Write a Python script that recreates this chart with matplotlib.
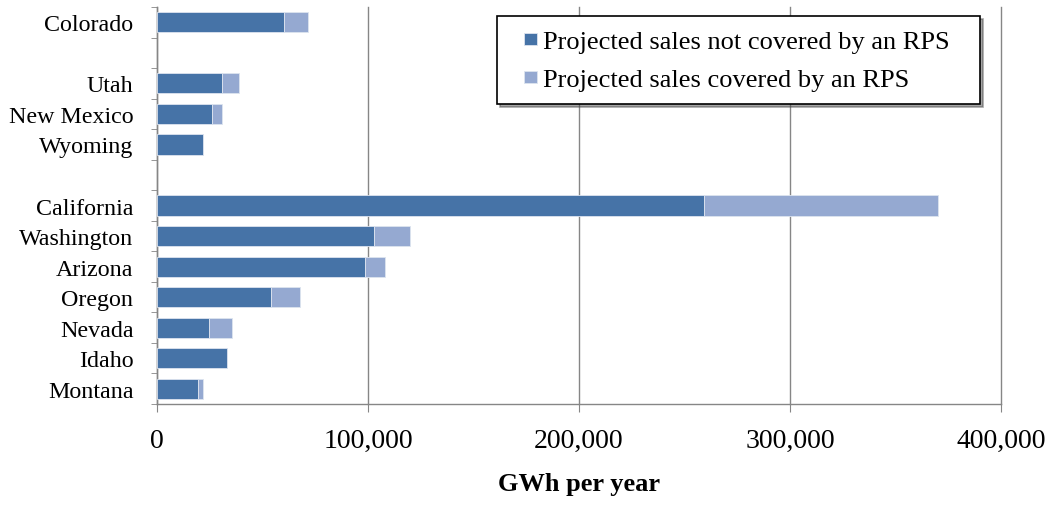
import numpy as np
import matplotlib.pyplot as plt
from matplotlib.patches import Rectangle
from matplotlib.container import BarContainer
from matplotlib.legend_handler import HandlerPatch
from matplotlib.ticker import FuncFormatter, FixedLocator

# rows from top to bottom; empty strings are the gaps between groups
states = ['Colorado', '', 'Utah', 'New Mexico', 'Wyoming', '',
          'California', 'Washington', 'Arizona', 'Oregon', 'Nevada', 'Idaho', 'Montana']
not_covered = np.array([60200, 0, 30800, 26100, 21800, 0,
                        259200, 102800, 98600, 54000, 24600, 33200, 19400])
covered = np.array([11400, 0, 8100, 4700, 0, 0,
                    110900, 17100, 9500, 13800, 10900, 0, 2400])

DARK = '#4673a7'
LIGHT = '#95a9d1'
GRID = '#868686'
EDGE = '#dde4ef'

plt.rcParams['font.family'] = ['Liberation Serif', 'DejaVu Serif']

fig = plt.figure(figsize=(10.51, 5.06), dpi=100)
ax = fig.add_axes([0.1494, 0.1996, 0.9524 - 0.1494, 0.984 - 0.1996])

n = len(states)
y = np.arange(n)[::-1]
m1 = not_covered > 0
m2 = covered > 0
ax.barh(y[m1], not_covered[m1], height=0.66, color=DARK, edgecolor=EDGE, linewidth=0.6,
        label='Projected sales not covered by an RPS', zorder=3)
ax.barh(y[m2], covered[m2], left=not_covered[m2], height=0.66, color=LIGHT, edgecolor=EDGE,
        linewidth=0.6, label='Projected sales covered by an RPS', zorder=3)

ax.set_ylim(-0.5, n - 0.5)
ax.set_xlim(0, 400000)

ax.set_yticks(y)
ax.set_yticklabels(states, fontsize=17.3)
ax.tick_params(axis='y', which='major', length=0, pad=17)
ax.yaxis.set_minor_locator(FixedLocator(np.arange(-0.5, n, 1.0)))
ax.tick_params(axis='y', which='minor', length=4.5, color=GRID, direction='out')

ax.set_xticks([0, 100000, 200000, 300000, 400000])
ax.xaxis.set_major_formatter(FuncFormatter(lambda v, p: f'{int(v):,}'))
ax.tick_params(axis='x', length=6, color=GRID, labelsize=20, pad=11)
ax.grid(axis='x', color=GRID, linewidth=1.0, zorder=0)
for gl in ax.get_xgridlines():
    gl.set_clip_on(False)

for side in ['top', 'right']:
    ax.spines[side].set_visible(False)
for side in ['left', 'bottom']:
    ax.spines[side].set_color(GRID)
    ax.spines[side].set_linewidth(1.0)

ax.set_xlabel('GWh per year', fontsize=19, fontweight='bold', labelpad=14)


def small_square(legend, orig_handle, xdescent, ydescent, width, height, fontsize):
    s = 0.46 * fontsize
    return Rectangle((width - s - xdescent, -ydescent + (height - s) / 2), s, s)


def first_child(tgt, src):
    tgt.update_from(src.patches[0])


leg = ax.legend(loc='upper left', bbox_to_anchor=(0.4028, 0.777, 0.5723, 0.2),
                mode='expand', fontsize=19,
                frameon=True, fancybox=False, shadow=True, handlelength=1.0,
                handleheight=0.7, handletextpad=0.25, borderpad=0.5, labelspacing=0.55,
                borderaxespad=0,
                handler_map={BarContainer: HandlerPatch(patch_func=small_square,
                                                        update_func=first_child)})
leg.get_frame().set_edgecolor('black')
leg.get_frame().set_linewidth(1.2)

plt.savefig('out.png', dpi=100)
